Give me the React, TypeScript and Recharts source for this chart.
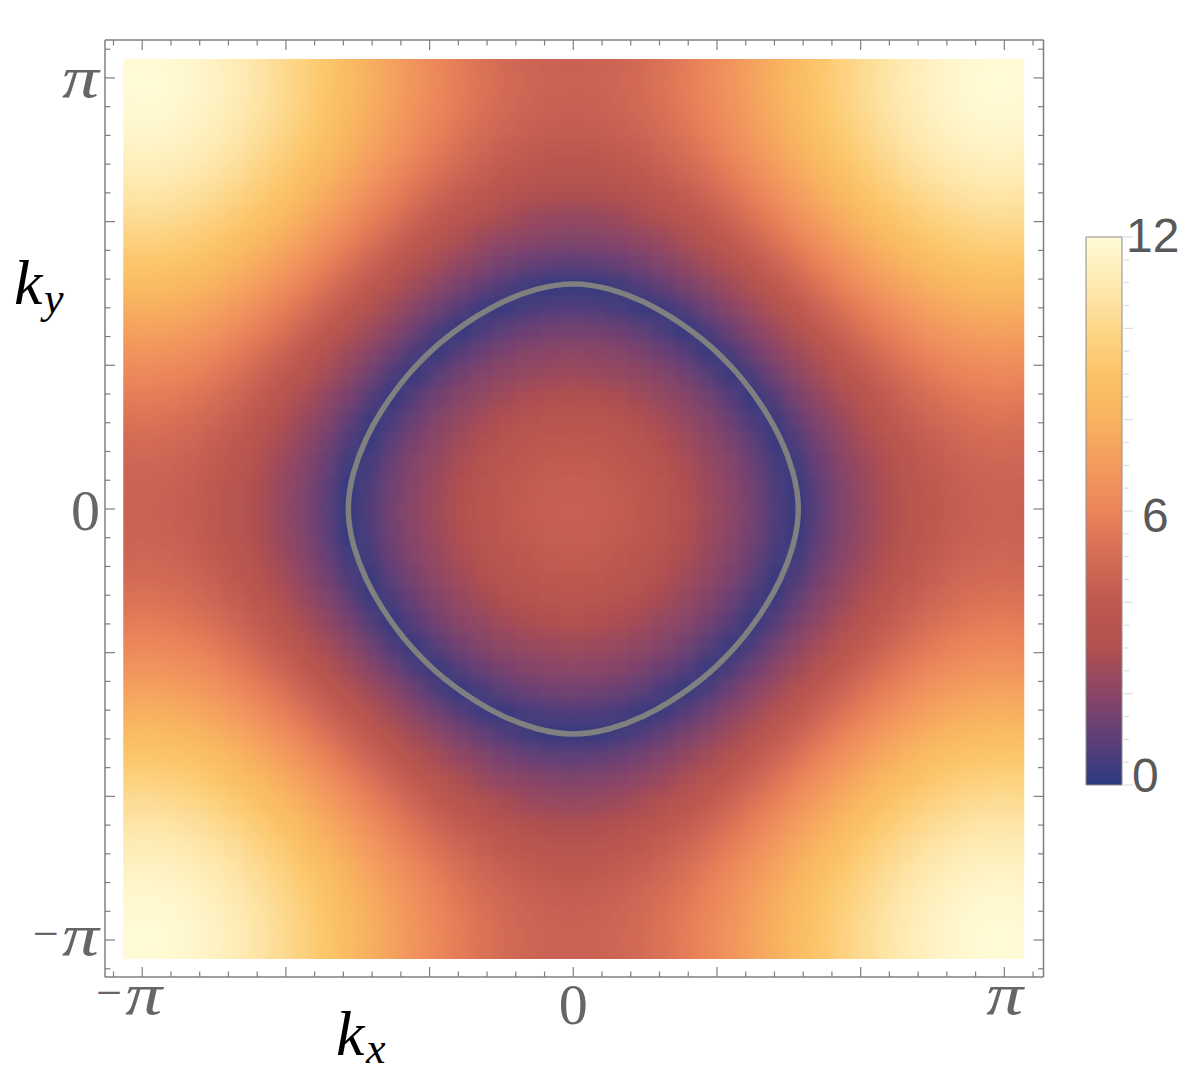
import React from 'react';
import {
  ComposedChart,
  BarChart,
  Bar,
  Scatter,
  XAxis,
  YAxis,
} from 'recharts';

// momenta of the sampled heat map rows/columns, one quadrant (the map is mirror symmetric)
const kSamples = [
  0, 0.164, 0.328, 0.492, 0.656, 0.82, 0.984, 1.148, 1.312, 1.476, 1.64,
  1.804, 1.968, 2.132, 2.296, 2.46, 2.624, 2.788, 2.952, 3.116, 3.28,
];

// values, rows = ky, columns = kx
const quadrant = [
  [4.4, 4.35, 4.18, 3.9, 3.53, 3.07, 2.53, 2.07, 1.49, 0.76, 0.08, 1.02, 1.77, 2.28, 2.9, 3.44, 3.88, 4.21, 4.41, 4.5, 4.45],
  [4.35, 4.29, 4.13, 3.85, 3.48, 3.02, 2.48, 2.02, 1.44, 0.7, 0.15, 1.08, 1.82, 2.33, 2.95, 3.49, 3.93, 4.25, 4.46, 4.55, 4.5],
  [4.18, 4.13, 3.96, 3.68, 3.31, 2.86, 2.32, 1.9, 1.28, 0.52, 0.36, 1.26, 1.96, 2.49, 3.11, 3.64, 4.08, 4.41, 4.61, 4.7, 4.65],
  [3.9, 3.85, 3.68, 3.41, 3.04, 2.59, 2.14, 1.67, 1.0, 0.2, 0.71, 1.54, 2.15, 2.75, 3.37, 3.9, 4.33, 4.66, 4.86, 4.95, 4.9],
  [3.53, 3.48, 3.31, 3.04, 2.68, 2.23, 1.87, 1.31, 0.6, 0.22, 1.13, 1.88, 2.43, 3.11, 3.71, 4.24, 4.67, 4.99, 5.2, 5.28, 5.23],
  [3.07, 3.02, 2.86, 2.59, 2.23, 1.95, 1.47, 0.85, 0.07, 0.82, 1.62, 2.22, 2.88, 3.54, 4.15, 4.66, 5.09, 5.41, 5.61, 5.69, 5.65],
  [2.53, 2.48, 2.32, 2.14, 1.87, 1.47, 0.92, 0.2, 0.6, 1.42, 2.08, 2.7, 3.4, 4.06, 4.65, 5.16, 5.58, 5.9, 6.1, 6.18, 6.13],
  [2.07, 2.02, 1.9, 1.67, 1.31, 0.85, 0.2, 0.53, 1.31, 1.98, 2.56, 3.29, 3.98, 4.63, 5.21, 5.71, 6.13, 6.44, 6.63, 6.71, 6.67],
  [1.49, 1.44, 1.28, 1.0, 0.6, 0.07, 0.6, 1.31, 1.95, 2.5, 3.21, 3.92, 4.61, 5.24, 5.81, 6.31, 6.72, 7.02, 7.21, 7.29, 7.25],
  [0.76, 0.7, 0.52, 0.2, 0.22, 0.82, 1.42, 1.98, 2.5, 3.19, 3.89, 4.59, 5.26, 5.88, 6.45, 6.93, 7.33, 7.63, 7.82, 7.89, 7.85],
  [0.08, 0.15, 0.36, 0.71, 1.13, 1.62, 2.08, 2.56, 3.21, 3.89, 4.58, 5.27, 5.92, 6.54, 7.09, 7.56, 7.96, 8.25, 8.43, 8.51, 8.47],
  [1.02, 1.08, 1.26, 1.54, 1.88, 2.22, 2.7, 3.29, 3.92, 4.59, 5.27, 5.94, 6.58, 7.18, 7.72, 8.19, 8.58, 8.86, 9.04, 9.12, 9.08],
  [1.77, 1.82, 1.96, 2.15, 2.43, 2.88, 3.4, 3.98, 4.61, 5.26, 5.92, 6.58, 7.21, 7.8, 8.33, 8.79, 9.17, 9.45, 9.63, 9.7, 9.66],
  [2.28, 2.33, 2.49, 2.75, 3.11, 3.54, 4.06, 4.63, 5.24, 5.88, 6.54, 7.18, 7.8, 8.38, 8.9, 9.35, 9.72, 10, 10.17, 10.24, 10.21],
  [2.9, 2.95, 3.11, 3.37, 3.71, 4.15, 4.65, 5.21, 5.81, 6.45, 7.09, 7.72, 8.33, 8.9, 9.42, 9.86, 10.22, 10.49, 10.67, 10.74, 10.7],
  [3.44, 3.49, 3.64, 3.9, 4.24, 4.66, 5.16, 5.71, 6.31, 6.93, 7.56, 8.19, 8.79, 9.35, 9.86, 10.3, 10.65, 10.92, 11.09, 11.16, 11.12],
  [3.88, 3.93, 4.08, 4.33, 4.67, 5.09, 5.58, 6.13, 6.72, 7.33, 7.96, 8.58, 9.17, 9.72, 10.22, 10.65, 11.01, 11.27, 11.44, 11.51, 11.47],
  [4.21, 4.25, 4.41, 4.66, 4.99, 5.41, 5.9, 6.44, 7.02, 7.63, 8.25, 8.86, 9.45, 10, 10.49, 10.92, 11.27, 11.53, 11.7, 11.77, 11.73],
  [4.41, 4.46, 4.61, 4.86, 5.2, 5.61, 6.1, 6.63, 7.21, 7.82, 8.43, 9.04, 9.63, 10.17, 10.67, 11.09, 11.44, 11.7, 11.87, 11.93, 11.9],
  [4.5, 4.55, 4.7, 4.95, 5.28, 5.69, 6.18, 6.71, 7.29, 7.89, 8.51, 9.12, 9.7, 10.24, 10.74, 11.16, 11.51, 11.77, 11.93, 12, 11.96],
  [4.45, 4.5, 4.65, 4.9, 5.23, 5.65, 6.13, 6.67, 7.25, 7.85, 8.47, 9.08, 9.66, 10.21, 10.7, 11.12, 11.47, 11.73, 11.9, 11.96, 11.93],
];

// gray zero contour, one quadrant from (0, ky) round to (kx, 0)
const ringKx = [0, 0.27, 0.51, 0.71, 0.87, 1.0, 1.095, 1.185, 1.29, 1.4, 1.51, 1.6, 1.64];
const ringKy = [1.64, 1.6, 1.51, 1.4, 1.29, 1.185, 1.095, 1.0, 0.87, 0.71, 0.51, 0.27, 0];

// colour bar
const scaleValues = [0, 1, 2, 3, 4, 5, 6, 7, 8, 9, 10, 11, 12];
const scaleColors = [
  '#2c3a80', '#5d3f78', '#8a4567', '#b0504f', '#bf5950', '#d56c56', '#ec8459',
  '#f39b5e', '#f8b35f', '#fcc466', '#fdd78a', '#feeab2', '#fffbd6',
];
const barData = [{ name: 'scale', value: 12 }];
const barTicks = [0, 0.5, 1, 1.5, 2, 2.5, 3, 3.5, 4, 4.5, 5, 5.5, 6, 6.5, 7, 7.5, 8, 8.5, 9, 9.5, 10, 10.5, 11, 11.5, 12];

// ticks are at multiples of pi/15, major ones every fifth
const tickSteps = [-16, -15, -14, -13, -12, -11, -10, -9, -8, -7, -6, -5, -4, -3, -2, -1, 0, 1, 2, 3, 4, 5, 6, 7, 8, 9, 10, 11, 12, 13, 14, 15, 16];
const kTicks = tickSteps.map((n) => (n * Math.PI) / 15);

const PLOT = { left: 105, top: 40, right: 1043.5, bottom: 977 };
const X_DOMAIN = [-3.413, 3.427];
const Y_DOMAIN = [-3.411, 3.418];
const CELL = 22.5;
const FRAME = '#7f7f7f';
const SERIF = '"Liberation Serif", serif';
const BAR_RIGHT = 62;

const colorAt = (v: number) => {
  let i = 0;
  while (i < scaleValues.length - 2 && v > scaleValues[i + 1]) i++;
  const t = (v - scaleValues[i]) / (scaleValues[i + 1] - scaleValues[i]);
  const channel = (hex: string, at: number) => parseInt(hex.slice(at, at + 2), 16);
  const mix = (at: number) =>
    Math.round(channel(scaleColors[i], at) * (1 - t) + channel(scaleColors[i + 1], at) * t);
  return `rgb(${mix(1)},${mix(3)},${mix(5)})`;
};

// mirror the quadrant into the four corners of the zone
const signed = [...kSamples.slice(1).reverse().map((k) => -k), ...kSamples];
const folded = (k: number) => kSamples.indexOf(Math.abs(k));
const heatCells = signed.flatMap((ky) =>
  signed.map((kx) => ({ kx, ky, value: quadrant[folded(ky)][folded(kx)] })),
);

const ringQuarter = ringKx.map((kx, i) => ({ kx, ky: ringKy[i] }));
const ringClosed = [
  ...ringQuarter,
  ...[...ringQuarter].reverse().slice(1).map((p) => ({ kx: p.kx, ky: -p.ky })),
  ...ringQuarter.slice(1).map((p) => ({ kx: -p.kx, ky: -p.ky })),
  ...[...ringQuarter].reverse().slice(1).map((p) => ({ kx: -p.kx, ky: p.ky })),
];
// run a little past the seam so the spline has no end kink on the ring
const ringData = [...ringClosed.slice(-4, -1), ...ringClosed, ...ringClosed.slice(1, 4)];

const HeatCell = (props: any) => {
  const { cx, cy, payload } = props;
  const half = CELL / 2 + 1;
  const edge = kSamples[kSamples.length - 1];
  const x0 = payload.kx === -edge ? cx - 40 : cx - half;
  const x1 = payload.kx === edge ? cx + 40 : cx + half;
  const y0 = payload.ky === edge ? cy - 40 : cy - half;
  const y1 = payload.ky === -edge ? cy + 40 : cy + half;
  return <rect x={x0} y={y0} width={x1 - x0} height={y1 - y0} fill={colorAt(payload.value)} />;
};

const stepOf = (value: number) => Math.round((value * 15) / Math.PI);
const tickLength = (n: number) => (n % 5 === 0 ? 10 : 5.5);

// pi stretched to the width it has in the reference, x is its left edge
const PiLabel = ({ x, y, negative }: { x: number; y: number; negative?: boolean }) => (
  <g>
    {negative && (
      <text x={x - 29} y={y - 6} fontFamily={SERIF} fontSize={46} fill="#666666">
        {'\u2212'}
      </text>
    )}
    <text x={x} y={y} fontFamily={SERIF} fontStyle="italic" fontSize={60} fill="#666666" textLength={37} lengthAdjust="spacingAndGlyphs">
      {'\u03c0'}
    </text>
  </g>
);

const ZeroLabel = ({ x, y, anchor }: { x: number; y: number; anchor: string }) => (
  <text x={x} y={y} textAnchor={anchor} fontFamily={SERIF} fontSize={58} fill="#666666">
    0
  </text>
);

const BottomTick = (props: any) => {
  const { x, payload } = props;
  const n = stepOf(payload.value);
  return (
    <g>
      <line x1={x} x2={x} y1={PLOT.bottom} y2={PLOT.bottom - tickLength(n)} stroke={FRAME} strokeWidth={1.2} />
      {n === 0 && <ZeroLabel x={x} y={1024} anchor="middle" />}
      {n === -15 && <PiLabel x={x - 17} y={1014} negative />}
      {n === 15 && <PiLabel x={x - 18} y={1014} />}
    </g>
  );
};

const TopTick = (props: any) => {
  const { x, payload } = props;
  const n = stepOf(payload.value);
  return <line x1={x} x2={x} y1={PLOT.top} y2={PLOT.top + tickLength(n)} stroke={FRAME} strokeWidth={1.2} />;
};

const LeftTick = (props: any) => {
  const { y, payload } = props;
  const n = stepOf(payload.value);
  return (
    <g>
      <line x1={PLOT.left} x2={PLOT.left + tickLength(n)} y1={y} y2={y} stroke={FRAME} strokeWidth={1.2} />
      {n === 0 && <ZeroLabel x={100} y={y + 21} anchor="end" />}
      {n === 15 && <PiLabel x={62} y={y + 19} />}
      {n === -15 && <PiLabel x={62} y={y + 15} negative />}
    </g>
  );
};

const RightTick = (props: any) => {
  const { y, payload } = props;
  const n = stepOf(payload.value);
  return <line x1={PLOT.right} x2={PLOT.right - tickLength(n)} y1={y} y2={y} stroke={FRAME} strokeWidth={1.2} />;
};

const BarTick = (props: any) => {
  const { y, payload } = props;
  const v = payload.value;
  const major = v % 2 === 0;
  const label = v === 12 || v === 6 || v === 0 ? String(v) : '';
  const dy = v === 12 ? 15 : v === 6 ? 21 : 7;
  const dx = v === 0 ? 10 : v === 6 ? 20 : 4;
  return (
    <g>
      <line x1={BAR_RIGHT} x2={BAR_RIGHT + (major ? 11 : 7)} y1={y} y2={y} stroke="#dddddd" strokeWidth={1.2} />
      <text x={BAR_RIGHT + dx} y={y + dy} fontFamily='"Liberation Sans", sans-serif' fontSize={48} fill="#595959">
        {label}
      </text>
    </g>
  );
};

const clipX = PLOT.left + ((-3.28 - X_DOMAIN[0]) / (X_DOMAIN[1] - X_DOMAIN[0])) * (PLOT.right - PLOT.left);
const clipY = PLOT.top + ((Y_DOMAIN[1] - 3.28) / (Y_DOMAIN[1] - Y_DOMAIN[0])) * (PLOT.bottom - PLOT.top);

const App = () => {
  return (
    <div style={{ position: 'absolute', left: 0, top: 0, width: 1192, height: 1076, background: '#fff' }}>
      <style>{`.heat-map { filter: url(#heatBlur); clip-path: url(#heatClip); }`}</style>
      <ComposedChart
        width={1192}
        height={1076}
        data={heatCells}
        margin={{ left: PLOT.left - 1, top: PLOT.top - 1, right: 1192 - PLOT.right - 1, bottom: 1076 - PLOT.bottom - 1 }}
      >
        <defs>
          <filter id="heatBlur" filterUnits="userSpaceOnUse" x={0} y={0} width={1192} height={1076}>
            <feGaussianBlur stdDeviation={8} />
          </filter>
          <clipPath id="heatClip" clipPathUnits="userSpaceOnUse">
            <rect x={clipX} y={clipY} width={901} height={900} />
          </clipPath>
        </defs>
        <XAxis xAxisId="bottom" dataKey="kx" type="number" orientation="bottom" domain={X_DOMAIN} ticks={kTicks} interval={0} height={1} tickLine={false} stroke={FRAME} strokeWidth={1.5} tick={<BottomTick />} allowDataOverflow />
        <XAxis xAxisId="top" dataKey="kx" type="number" orientation="top" domain={X_DOMAIN} ticks={kTicks} interval={0} height={1} tickLine={false} stroke={FRAME} strokeWidth={1.5} tick={<TopTick />} allowDataOverflow />
        <YAxis yAxisId="left" dataKey="ky" type="number" orientation="left" domain={Y_DOMAIN} ticks={kTicks} interval={0} width={1} tickLine={false} stroke={FRAME} strokeWidth={1.5} tick={<LeftTick />} allowDataOverflow />
        <YAxis yAxisId="right" dataKey="ky" type="number" orientation="right" domain={Y_DOMAIN} ticks={kTicks} interval={0} width={1} tickLine={false} stroke={FRAME} strokeWidth={1.5} tick={<RightTick />} allowDataOverflow />
        <Scatter className="heat-map" xAxisId="bottom" yAxisId="left" data={heatCells} dataKey="value" shape={<HeatCell />} isAnimationActive={false} />
        <Scatter xAxisId="bottom" yAxisId="left" data={ringData} shape={() => <g />} line={{ stroke: '#808080', strokeWidth: 5.5 }} lineJointType="natural" isAnimationActive={false} />
        <text x={336} y={1055} fontFamily={SERIF} fontStyle="italic" fontSize={64} fill="#000">k</text>
        <text x={366} y={1063} fontFamily={SERIF} fontStyle="italic" fontSize={44} fill="#000">x</text>
        <text x={14} y={304} fontFamily={SERIF} fontStyle="italic" fontSize={64} fill="#000">k</text>
        <text x={44} y={313} fontFamily={SERIF} fontStyle="italic" fontSize={44} fill="#000">y</text>
      </ComposedChart>
      <div style={{ position: 'absolute', left: 1060, top: 200 }}>
        <BarChart
          width={132}
          height={620}
          data={barData}
          barCategoryGap={0}
          margin={{ left: 26, top: 37, right: 69, bottom: 35 }}
        >
          <defs>
            <linearGradient id="scaleFill" x1="0" y1="1" x2="0" y2="0">
              {scaleValues.map((v, i) => (
                <stop key={v} offset={v / 12} stopColor={scaleColors[i]} />
              ))}
            </linearGradient>
          </defs>
          <XAxis dataKey="name" hide />
          <YAxis orientation="right" type="number" domain={[0, 12]} ticks={barTicks} interval={0} width={1} axisLine={false} tickLine={false} tick={<BarTick />} />
          <Bar dataKey="value" fill="url(#scaleFill)" stroke="#8c8c8c" strokeWidth={1} isAnimationActive={false} />
        </BarChart>
      </div>
    </div>
  );
};

export default App;
